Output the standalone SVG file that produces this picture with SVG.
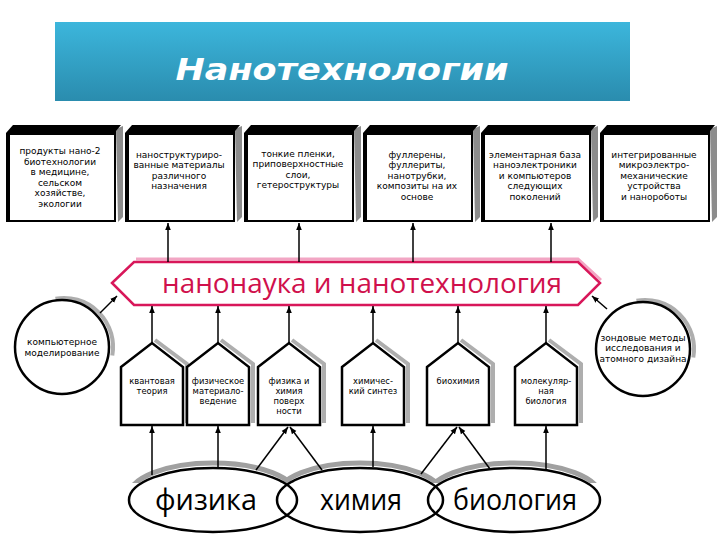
<svg xmlns="http://www.w3.org/2000/svg" xmlns:xlink="http://www.w3.org/1999/xlink" width="720" height="540" viewBox="0 0 720 540">
<style>
.bt{font-family:"DejaVu Sans","Liberation Sans",sans-serif;font-size:9px;fill:#000;text-anchor:middle}
.ht{font-family:"DejaVu Sans","Liberation Sans",sans-serif;font-size:8.4px;fill:#000;text-anchor:middle}
.big{font-family:"Open Sans","Liberation Sans",sans-serif;font-size:30px;fill:#000;text-anchor:middle}
.ln{stroke:#000;stroke-width:1.5;fill:none}
.hs{fill:#fff;stroke:#000;stroke-width:2.5;stroke-linejoin:miter}
.sh{fill:none;stroke:#9a9a9a;stroke-width:4;opacity:0.8}
</style>
<defs>
<linearGradient id="tg" x1="0" y1="0" x2="0" y2="1">
<stop offset="0" stop-color="#3cb6dc"/>
<stop offset="1" stop-color="#2a8cae"/>
</linearGradient>
<marker id="ah" viewBox="0 0 10 10" refX="10" refY="5" markerWidth="7" markerHeight="7" markerUnits="userSpaceOnUse" orient="auto">
<path d="M0,1 L10,5 L0,9 Z" fill="#000"/>
</marker>
<g id="box">
<polygon points="110,4 117,1 117,92 112,97" fill="#8c8c8c"/>
<polygon points="0,8 7,0 115,0 110,6 110,97 0,97" fill="#000"/>
<rect x="4" y="10" width="104" height="85" fill="#fff"/>
</g>
<g id="house">
<polyline points="3,-3 35,21 35,80" class="sh"/>
<polygon points="-31,24 0,0 31,24 31,82 -31,82" class="hs"/>
</g>
<clipPath id="topclip"><rect x="0" y="440" width="720" height="43"/></clipPath>
</defs>
<rect width="720" height="540" fill="#fff"/>

<g id="title">
<rect x="55" y="22" width="575" height="79" fill="url(#tg)"/>
<text x="342" y="80" font-family="'DejaVu Sans','Liberation Sans',sans-serif" font-size="31" font-weight="bold" font-style="italic" fill="#fff" text-anchor="middle" textLength="333" lengthAdjust="spacingAndGlyphs">Нанотехнологии</text>
</g>

<g id="box1" transform="translate(6,125)">
<use xlink:href="#box"/>
<text class="bt"><tspan x="54" y="29">продукты нано-2</tspan><tspan x="54" y="39.5">биотехнологии</tspan><tspan x="54" y="50">в медицине,</tspan><tspan x="54" y="60.5">сельском</tspan><tspan x="54" y="71">хозяйстве,</tspan><tspan x="54" y="81.5">экологии</tspan></text>
</g>
<g id="box2" transform="translate(125,125)">
<use xlink:href="#box"/>
<text class="bt"><tspan x="54" y="32.5">наноструктуриро-</tspan><tspan x="54" y="43">ванные материалы</tspan><tspan x="54" y="53.5">различного</tspan><tspan x="54" y="64">назначения</tspan></text>
</g>
<g id="box3" transform="translate(244,125)">
<use xlink:href="#box"/>
<text class="bt"><tspan x="54" y="31.5">тонкие пленки,</tspan><tspan x="54" y="42">приповерхностные</tspan><tspan x="54" y="52.5">слои,</tspan><tspan x="54" y="63">гетероструктуры</tspan></text>
</g>
<g id="box4" transform="translate(363,125)">
<use xlink:href="#box"/>
<text class="bt"><tspan x="54" y="32.5">фуллерены,</tspan><tspan x="54" y="43">фуллериты,</tspan><tspan x="54" y="53.5">нанотрубки,</tspan><tspan x="54" y="64">композиты на их</tspan><tspan x="54" y="74.5">основе</tspan></text>
</g>
<g id="box5" transform="translate(481,125)">
<use xlink:href="#box"/>
<text class="bt"><tspan x="54" y="32.5">элементарная база</tspan><tspan x="54" y="43">наноэлектроники</tspan><tspan x="54" y="53.5">и компьютеров</tspan><tspan x="54" y="64">следующих</tspan><tspan x="54" y="74.5">поколений</tspan></text>
</g>
<g id="box6" transform="translate(600,125)">
<use xlink:href="#box"/>
<text class="bt"><tspan x="54" y="32.5">интегрированные</tspan><tspan x="54" y="43">микроэлектро-</tspan><tspan x="54" y="53.5">механические</tspan><tspan x="54" y="64">устройства</tspan><tspan x="54" y="74.5">и нанороботы</tspan></text>
</g>

<g id="banner">
<polyline points="136,259 578,259 601,280" fill="none" stroke="#f2a6c4" stroke-width="3"/>
<polygon points="112,283 134,262 578,262 600,283 578,305 134,305" fill="#fff" stroke="#d8175a" stroke-width="2.5"/>
<text x="362" y="293" font-family="'Open Sans','Liberation Sans',sans-serif" font-size="28" fill="#d0104c" text-anchor="middle" textLength="400" lengthAdjust="spacingAndGlyphs">нанонаука и нанотехнология</text>
</g>

<g id="circleL">
<path d="M55.5,298.7 A49,49 0 0 1 112.3,355.5" class="sh" stroke-width="5"/>
<circle cx="62" cy="347" r="47" fill="#fff" stroke="#000" stroke-width="2.5"/>
<text class="bt"><tspan x="62" y="345">компьютерное</tspan><tspan x="62" y="355.5">моделирование</tspan></text>
</g>
<g id="circleR">
<path d="M636.5,300.7 A49,49 0 0 1 693.3,357.5" class="sh" stroke-width="5"/>
<circle cx="643" cy="349" r="47" fill="#fff" stroke="#000" stroke-width="2.5"/>
<text class="bt"><tspan x="643" y="340.5">зондовые методы</tspan><tspan x="643" y="351">исследования и</tspan><tspan x="643" y="361.5">атомного дизайна</tspan></text>
</g>

<g id="house1" transform="translate(152,343)"><use xlink:href="#house"/>
<text class="ht"><tspan x="0" y="41">квантовая</tspan><tspan x="0" y="51">теория</tspan></text></g>
<g id="house2" transform="translate(218,343)"><use xlink:href="#house"/>
<text class="ht"><tspan x="0" y="41">физическое</tspan><tspan x="0" y="51">материало-</tspan><tspan x="0" y="61">ведение</tspan></text></g>
<g id="house3" transform="translate(289,343)"><use xlink:href="#house"/>
<text class="ht"><tspan x="0" y="41">физика и</tspan><tspan x="0" y="51">химия</tspan><tspan x="0" y="61">поверх</tspan><tspan x="0" y="71">ности</tspan></text></g>
<g id="house4" transform="translate(373,343)"><use xlink:href="#house"/>
<text class="ht"><tspan x="0" y="41">химичес-</tspan><tspan x="0" y="51">кий синтез</tspan></text></g>
<g id="house5" transform="translate(458,343)"><use xlink:href="#house"/>
<text class="ht"><tspan x="0" y="41">биохимия</tspan></text></g>
<g id="house6" transform="translate(546,343)"><use xlink:href="#house"/>
<text class="ht"><tspan x="0" y="41">молекуляр-</tspan><tspan x="0" y="51">ная</tspan><tspan x="0" y="61">биология</tspan></text></g>

<g id="ellipses">
<g clip-path="url(#topclip)" fill="none" stroke="#a0a0a0" stroke-width="5">
<ellipse cx="213" cy="496" rx="84" ry="33"/>
<ellipse cx="360" cy="496" rx="83" ry="33"/>
<ellipse cx="514" cy="496" rx="86" ry="33"/>
</g>
<g fill="none" stroke="#000" stroke-width="2.5">
<ellipse cx="213" cy="500" rx="84" ry="32"/>
<ellipse cx="360" cy="500" rx="83" ry="32"/>
<ellipse cx="514" cy="500" rx="86" ry="32"/>
</g>
<text class="big" x="206" y="510" textLength="102" lengthAdjust="spacingAndGlyphs">физика</text>
<text class="big" x="361" y="510" textLength="82" lengthAdjust="spacingAndGlyphs">химия</text>
<text class="big" x="515" y="510" textLength="124" lengthAdjust="spacingAndGlyphs">биология</text>
</g>

<g id="connectors" marker-end="url(#ah)">
<line class="ln" x1="168" y1="262" x2="168" y2="223"/>
<line class="ln" x1="299" y1="262" x2="299" y2="223"/>
<line class="ln" x1="413" y1="262" x2="413" y2="223" stroke-width="3"/>
<line class="ln" x1="551" y1="262" x2="551" y2="223"/>
<line class="ln" x1="152" y1="343" x2="152" y2="306"/>
<line class="ln" x1="218" y1="343" x2="218" y2="306"/>
<line class="ln" x1="289" y1="343" x2="289" y2="306"/>
<line class="ln" x1="373" y1="343" x2="373" y2="306"/>
<line class="ln" x1="458" y1="343" x2="458" y2="306"/>
<line class="ln" x1="546" y1="343" x2="546" y2="306"/>
<line class="ln" x1="100" y1="313" x2="117" y2="296"/>
<line class="ln" x1="607" y1="309" x2="592" y2="296"/>
<line class="ln" x1="152" y1="475" x2="152" y2="426"/>
<line class="ln" x1="218" y1="468" x2="218" y2="426"/>
<line class="ln" x1="256" y1="470" x2="288" y2="427"/>
<line class="ln" x1="322" y1="470" x2="290" y2="427"/>
<line class="ln" x1="373" y1="467" x2="373" y2="426"/>
<line class="ln" x1="421" y1="474" x2="457" y2="427"/>
<line class="ln" x1="490" y1="469" x2="459" y2="427"/>
<line class="ln" x1="546" y1="469" x2="546" y2="426"/>
</g>
</svg>
